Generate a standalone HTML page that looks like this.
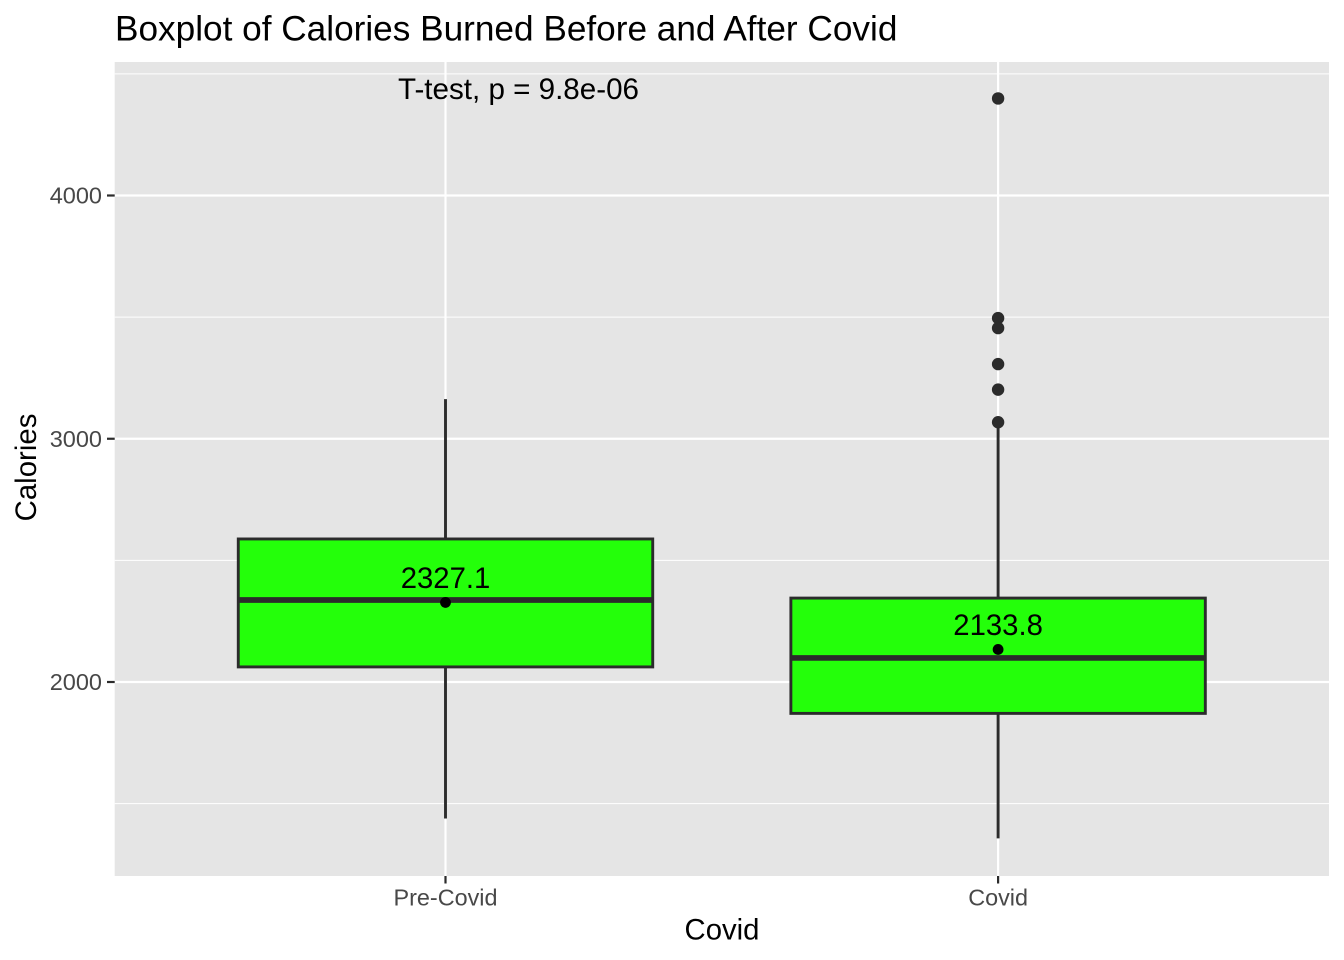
<!DOCTYPE html>
<html>
<head>
<meta charset="utf-8">
<title>Boxplot of Calories Burned Before and After Covid</title>
<style>
html,body{margin:0;padding:0;background:#fff;width:1344px;height:960px;overflow:hidden}
svg{display:block}
text{font-family:"Liberation Sans",Arial,sans-serif}
</style>
</head>
<body>
<svg id="chart" width="1344" height="960" viewBox="0 0 1344 960" xmlns="http://www.w3.org/2000/svg">
<rect x="0" y="0" width="1344" height="960" fill="#fff"></rect>
<rect x="114.7" y="62" width="1214.3" height="814" fill="#e5e5e5"></rect>
<g id="grid"></g>
<g id="marks"></g>
<g id="axes"></g>
<text x="115" y="40.5" font-size="35.2" fill="#000">Boxplot of Calories Burned Before and After Covid</text>
<text x="722" y="939.5" font-size="29.3" fill="#000" text-anchor="middle">Covid</text>
<text transform="translate(36,467.5) rotate(-90)" font-size="29.4" fill="#000" text-anchor="middle">Calories</text>
<text x="518.5" y="99" font-size="29.6" fill="#000" text-anchor="middle">T-test, p = 9.8e-06</text>
</svg>
<script>
var categories = ['Pre-Covid', 'Covid'];
var whiskerLow = [1439, 1357];
var q1 = [2062, 1871];
var median = [2337, 2099];
var q3 = [2588, 2345];
var whiskerHigh = [3163, 3068];
var means = [2327.1, 2133.8];
var meanLabels = ['2327.1', '2133.8'];
var outlierCategory = [1, 1, 1, 1, 1, 1];
var outlierValues = [4399, 3496, 3455, 3307, 3202, 3068];
var majorTicks = [2000, 3000, 4000];
var minorTicks = [1500, 2500, 3500, 4500];

var NS = 'http://www.w3.org/2000/svg';
var BOX_WIDTH = 0.75;
var INK = '#2b2b2b';

function yScale(v) {
  return 682 - (v - 2000) * 0.24325;
}
function xScale(i) {
  return 445.5 + i * 552.6;
}
function bandPx() {
  return 552.6;
}
function make(parent, tag, attrs) {
  var el = document.createElementNS(NS, tag);
  for (var k in attrs) {
    el.setAttribute(k, attrs[k]);
  }
  parent.appendChild(el);
  return el;
}

var grid = document.getElementById('grid');
var marks = document.getElementById('marks');
var axes = document.getElementById('axes');

minorTicks.forEach(function (t) {
  var el = make(grid, 'line', {x1: 114.7, x2: 1329, y1: yScale(t), y2: yScale(t), stroke: '#fff', 'stroke-width': 1.1});
  
  
});
majorTicks.forEach(function (t) {
  var el = make(grid, 'line', {x1: 114.7, x2: 1329, y1: yScale(t), y2: yScale(t), stroke: '#fff', 'stroke-width': 2.2});
  
  

  var tick = make(axes, 'line', {x1: 107, x2: 114.7, y1: yScale(t), y2: yScale(t), stroke: INK, 'stroke-width': 2.2});
  
  

  var label = make(axes, 'text', {x: 102, y: yScale(t) + 8, 'font-size': 23.5, fill: '#484848', 'text-anchor': 'end'});
  label.textContent = String(t);
  
  
});

categories.forEach(function (c, i) {
  var x = xScale(i);
  var half = bandPx() * BOX_WIDTH / 2;

  var gl = make(grid, 'line', {x1: x, x2: x, y1: 62, y2: 876, stroke: '#fff', 'stroke-width': 2.2});
  
  

  var tick = make(axes, 'line', {x1: x, x2: x, y1: 876, y2: 883.5, stroke: INK, 'stroke-width': 2.2});
  
  

  var label = make(axes, 'text', {x: x, y: 905.5, 'font-size': 23.4, fill: '#484848', 'text-anchor': 'middle'});
  label.textContent = c;
  
  

  var upper = make(marks, 'line', {x1: x, x2: x, y1: yScale(whiskerHigh[i]), y2: yScale(q3[i]), stroke: INK, 'stroke-width': 2.9});
  
  

  var lower = make(marks, 'line', {x1: x, x2: x, y1: yScale(q1[i]), y2: yScale(whiskerLow[i]), stroke: INK, 'stroke-width': 2.9});
  
  

  var box = make(marks, 'rect', {x: x - half, y: yScale(q3[i]), width: half * 2, height: yScale(q1[i]) - yScale(q3[i]), fill: '#24ff0a', stroke: INK, 'stroke-width': 2.9});
  
  

  var med = make(marks, 'line', {x1: x - half, x2: x + half, y1: yScale(median[i]), y2: yScale(median[i]), stroke: INK, 'stroke-width': 5.7});
  
  

  var mean = make(marks, 'circle', {cx: x, cy: yScale(means[i]), r: 5.4, fill: '#000'});
  
  

  var meanText = make(marks, 'text', {x: x, y: yScale(means[i]) - 14.5, 'font-size': 29.3, fill: '#000', 'text-anchor': 'middle'});
  meanText.textContent = meanLabels[i];
  
  
});

outlierValues.forEach(function (v, i) {
  var pt = make(marks, 'circle', {cx: xScale(outlierCategory[i]), cy: yScale(v), r: 6.2, fill: INK});
  
  
});
</script>
</body>
</html>
